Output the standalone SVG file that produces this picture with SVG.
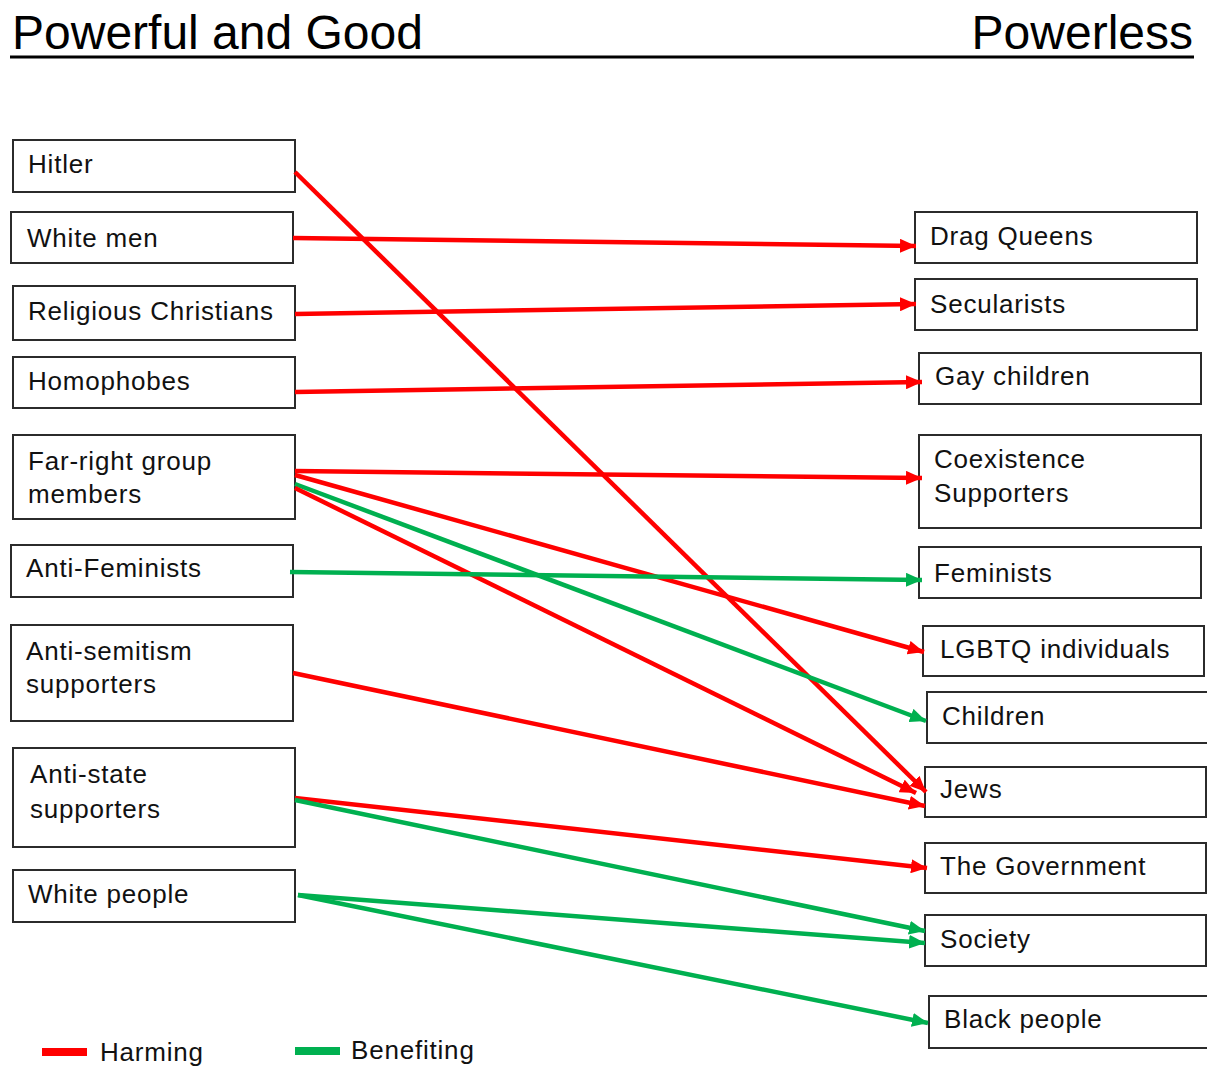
<svg xmlns="http://www.w3.org/2000/svg" width="1207" height="1066" viewBox="0 0 1207 1066">
  <defs>
    <style>
      .title { font-family: "Liberation Sans", Arial, sans-serif; font-size: 48px; fill: #000; }
      .lbl { font-family: "Liberation Sans", Arial, sans-serif; font-size: 26px; fill: #111; letter-spacing: 0.8px; }
      .box { fill: #fff; stroke: #2b2b2b; stroke-width: 2; }
      .harm { stroke: #ff0000; stroke-width: 4.5; fill: none; marker-end: url(#arrRed); }
      .help { stroke: #00b050; stroke-width: 4.5; fill: none; marker-end: url(#arrGreen); }
    </style>
    <marker id="arrRed" markerUnits="userSpaceOnUse" viewBox="0 0 16 14" refX="16" refY="7" markerWidth="16" markerHeight="14" orient="auto">
      <path d="M0,0 L16,7 L0,14 Z" fill="#ff0000"/>
    </marker>
    <marker id="arrGreen" markerUnits="userSpaceOnUse" viewBox="0 0 16 14" refX="16" refY="7" markerWidth="16" markerHeight="14" orient="auto">
      <path d="M0,0 L16,7 L0,14 Z" fill="#00b050"/>
    </marker>
  </defs>

  <rect width="1207" height="1066" fill="#fff"/>

  <!-- Column headings -->
  <g id="headings">
    <text class="title" x="12" y="49">Powerful and Good</text>
    <text class="title" x="1193" y="49" text-anchor="end">Powerless</text>
    <line x1="10" y1="57" x2="1194" y2="57" stroke="#000" stroke-width="3"/>
  </g>

  <!-- Actors (left column) -->
  <g id="hitler"><rect class="box" x="13" y="140" width="282" height="52"/><text class="lbl" x="28" y="173">Hitler</text></g>
  <g id="white-men"><rect class="box" x="11" y="212" width="282" height="51"/><text class="lbl" x="27" y="247">White men</text></g>
  <g id="religious-christians"><rect class="box" x="13" y="286" width="282" height="54"/><text class="lbl" x="28" y="320">Religious Christians</text></g>
  <g id="homophobes"><rect class="box" x="13" y="357" width="282" height="51"/><text class="lbl" x="28" y="390">Homophobes</text></g>
  <g id="far-right"><rect class="box" x="13" y="435" width="282" height="84"/><text class="lbl" x="28" y="470">Far-right group</text><text class="lbl" x="28" y="503">members</text></g>
  <g id="anti-feminists"><rect class="box" x="11" y="545" width="282" height="52"/><text class="lbl" x="26" y="577">Anti-Feminists</text></g>
  <g id="anti-semitism"><rect class="box" x="11" y="625" width="282" height="96"/><text class="lbl" x="26" y="660">Anti-semitism</text><text class="lbl" x="26" y="693">supporters</text></g>
  <g id="anti-state"><rect class="box" x="13" y="748" width="282" height="99"/><text class="lbl" x="30" y="783">Anti-state</text><text class="lbl" x="30" y="818">supporters</text></g>
  <g id="white-people"><rect class="box" x="13" y="870" width="282" height="52"/><text class="lbl" x="28" y="903">White people</text></g>

  <!-- Targets (right column) -->
  <g id="drag-queens"><rect class="box" x="915" y="212" width="282" height="51"/><text class="lbl" x="930" y="245">Drag Queens</text></g>
  <g id="secularists"><rect class="box" x="915" y="279" width="282" height="51"/><text class="lbl" x="930" y="313">Secularists</text></g>
  <g id="gay-children"><rect class="box" x="919" y="353" width="282" height="51"/><text class="lbl" x="935" y="385">Gay children</text></g>
  <g id="coexistence"><rect class="box" x="919" y="435" width="282" height="93"/><text class="lbl" x="934" y="468">Coexistence</text><text class="lbl" x="934" y="502">Supporters</text></g>
  <g id="feminists"><rect class="box" x="919" y="547" width="282" height="51"/><text class="lbl" x="934" y="582">Feminists</text></g>
  <g id="lgbtq"><rect class="box" x="923" y="626" width="281" height="50"/><text class="lbl" x="940" y="658">LGBTQ individuals</text></g>
  <g id="children"><rect class="box" x="927" y="692" width="282" height="51"/><text class="lbl" x="942" y="725">Children</text></g>
  <g id="jews"><rect class="box" x="925" y="767" width="281" height="50"/><text class="lbl" x="940" y="798">Jews</text></g>
  <g id="government"><rect class="box" x="925" y="843" width="281" height="50"/><text class="lbl" x="940" y="875">The Government</text></g>
  <g id="society"><rect class="box" x="925" y="915" width="281" height="51"/><text class="lbl" x="940" y="948">Society</text></g>
  <g id="black-people"><rect class="box" x="929" y="996" width="282" height="52"/><text class="lbl" x="944" y="1028">Black people</text></g>

  <!-- Relations -->
  <g id="connectors">
    <line class="harm" x1="295" y1="172" x2="926" y2="792"/>
    <line class="harm" x1="293" y1="238" x2="916" y2="246"/>
    <line class="harm" x1="295" y1="314" x2="916" y2="304"/>
    <line class="harm" x1="295" y1="392" x2="922" y2="382"/>
    <line class="harm" x1="295" y1="471" x2="922" y2="478"/>
    <line class="harm" x1="295" y1="475" x2="924" y2="652"/>
    <line class="help" x1="295" y1="484" x2="926" y2="721"/>
    <line class="harm" x1="295" y1="488" x2="916" y2="793"/>
    <line class="help" x1="290" y1="572" x2="922" y2="580"/>
    <line class="harm" x1="293" y1="673" x2="925" y2="806"/>
    <line class="harm" x1="295" y1="798" x2="927" y2="868"/>
    <line class="help" x1="295" y1="800" x2="925" y2="931"/>
    <line class="help" x1="298" y1="895" x2="925" y2="943"/>
    <line class="help" x1="298" y1="895" x2="928" y2="1023"/>
  </g>

  <!-- Key -->
  <g id="legend">
    <line x1="42" y1="1052" x2="87" y2="1052" stroke="#ff0000" stroke-width="8"/>
    <text class="lbl" x="100" y="1061">Harming</text>
    <line x1="295" y1="1051" x2="340" y2="1051" stroke="#00b050" stroke-width="8"/>
    <text class="lbl" x="351" y="1059">Benefiting</text>
  </g>
</svg>
